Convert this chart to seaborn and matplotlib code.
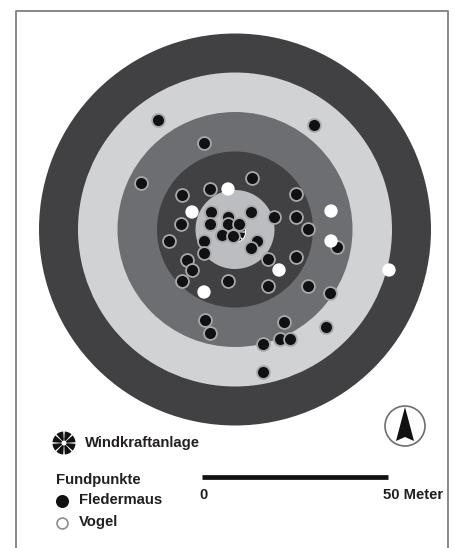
#!/usr/bin/env python3
import pandas as pd
import matplotlib
matplotlib.use('Agg')
import matplotlib.pyplot as plt
from matplotlib.patches import Circle, Polygon, Wedge
import seaborn as sns

# values, in reference pixels
ring_radius = [196, 157, 117.5, 78, 39.5]
ring_color = ['#414042', '#d1d2d4', '#6d6e71', '#414042', '#bcbdc0']
ring_center = (235, 229.5)

bat_x = [158, 314, 204, 141, 182, 210, 252, 296, 211, 228, 251, 274, 296, 308, 181, 210, 228, 239,
         169, 222, 233, 204, 257, 251, 204, 187, 192, 182, 228, 268, 296, 268, 308, 330, 337,
         205, 210, 284, 326, 263, 280, 290, 263]
bat_y = [120, 125, 143, 183, 195, 189, 178, 194, 212, 217, 212, 217, 217, 229, 224, 224, 224, 224,
         241, 235, 236, 241, 241, 248, 253, 260, 270, 281, 281, 259, 257, 286, 286, 293, 247,
         320, 333, 322, 327, 344, 339, 339, 372]
bird_x = [228, 192, 331, 331, 279, 204, 389]
bird_y = [189, 212, 211, 241, 270, 292, 270]

turbine_xy = (235, 232)
scale_x = [202, 388]
scale_y = 477

bats = pd.DataFrame({'x': bat_x, 'y': bat_y})
birds = pd.DataFrame({'x': bird_x, 'y': bird_y})

sns.set_style('white')
plt.rcParams['font.family'] = ['Liberation Sans', 'DejaVu Sans']

fig = plt.figure(figsize=(4.55, 5.48), dpi=100)
ax = fig.add_axes([0, 0, 1, 1])
ax.set_xlim(0, 455)
ax.set_ylim(548, 0)
ax.axis('off')

# page frame, open at the bottom
ax.plot([16, 16, 448, 448], [548, 11, 11, 548], color='#7f7f7f', lw=1.3)

for r, c in zip(ring_radius, ring_color):
    ax.add_patch(Circle(ring_center, r, fc=c, ec='none', zorder=1))


def turbine(ax, xy, r, zorder=2):
    # eight black wedges split by white spokes, with a small white hub
    ax.add_patch(Circle(xy, r, fc='white', ec='none', zorder=zorder))
    for a in range(0, 360, 45):
        ax.add_patch(Wedge(xy, r, a + 4, a + 41, fc='#111114', ec='none', zorder=zorder))
    ax.add_patch(Circle(xy, r * 0.22, fc='white', ec='none', zorder=zorder))


ax.add_patch(Circle(turbine_xy, 11, fc='white', ec='none', zorder=1.5))
turbine(ax, turbine_xy, 10)

sns.scatterplot(data=bats, x='x', y='y', color='#111114', s=86, edgecolor='#a7a8aa', linewidth=1.3,
                legend=False, ax=ax, zorder=3)
sns.scatterplot(data=birds, x='x', y='y', color='white', s=92, edgecolor='none', linewidth=0,
                legend=False, ax=ax, zorder=3.5)
ax.set_xlabel('')
ax.set_ylabel('')

text_kw = dict(fontsize=10.7, fontweight='bold', color='#231f20', va='center')

# legend
turbine(ax, (64, 443), 11.5)
ax.text(85, 443, 'Windkraftanlage', **text_kw)
ax.text(56, 480, 'Fundpunkte', **text_kw)
ax.scatter([62], [501], s=70, c='#111114', zorder=3)
ax.scatter([62], [523], s=62, c='white', edgecolors='#8c8c8c', linewidths=1.2, zorder=3)
ax.text(79, 500, 'Fledermaus', **text_kw)
ax.text(79, 522, 'Vogel', **text_kw)

# scale bar
ax.plot(scale_x, [scale_y, scale_y], color='#111114', lw=3.4, solid_capstyle='butt')
ax.text(203, 495, '0', ha='center', **text_kw)
ax.text(443, 495, '50 Meter', ha='right', **text_kw)

# north arrow
ax.add_patch(Circle((405, 426), 20, fc='white', ec='#6d6e71', lw=1.2, zorder=2))
ax.add_patch(Polygon([(405, 407), (396, 441), (405, 437), (414, 441)], fc='#111114', ec='none', zorder=3))

fig.savefig('out.png', dpi=100)
